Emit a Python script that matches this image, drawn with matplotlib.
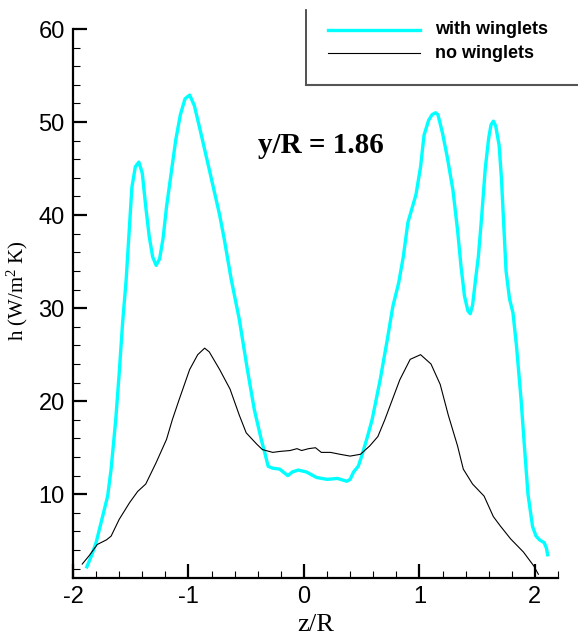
import matplotlib
matplotlib.use("Agg")
import matplotlib.pyplot as plt
from matplotlib.lines import Line2D
from matplotlib.ticker import MultipleLocator

plt.rcParams["axes.unicode_minus"] = False
plt.rcParams["mathtext.fontset"] = "custom"
plt.rcParams["mathtext.rm"] = "Liberation Serif"
plt.rcParams["mathtext.it"] = "Liberation Serif"

# with winglets (cyan)
z_w = [-1.88, -1.84, -1.80, -1.75, -1.70, -1.67, -1.63, -1.60, -1.57, -1.54, -1.51, -1.49,
       -1.46, -1.43, -1.40, -1.37, -1.34, -1.31, -1.28, -1.25, -1.22, -1.19, -1.15, -1.11,
       -1.07, -1.03, -0.99, -0.95, -0.90, -0.82, -0.73, -0.69, -0.63, -0.56, -0.49, -0.43,
       -0.37, -0.34, -0.31, -0.27, -0.21, -0.18, -0.14, -0.10, -0.05, 0.02, 0.11, 0.20,
       0.29, 0.37, 0.40, 0.43, 0.47, 0.50, 0.55, 0.59, 0.66, 0.72, 0.77, 0.82, 0.86, 0.90,
       0.97, 1.01, 1.04, 1.08, 1.11, 1.14, 1.16, 1.20, 1.24, 1.29, 1.33, 1.36, 1.39, 1.42,
       1.44, 1.46, 1.49, 1.51, 1.54, 1.57, 1.60, 1.62, 1.64, 1.66, 1.69, 1.71, 1.73, 1.75,
       1.78, 1.81, 1.84, 1.88, 1.91, 1.94, 1.98, 2.01, 2.04, 2.08, 2.10, 2.11]
h_w = [2.2, 3.4, 4.8, 7.3, 9.8, 12.7, 18.0, 23.0, 28.5, 33.0, 39.0, 43.0,
       45.2, 45.7, 44.5, 40.9, 37.7, 35.5, 34.6, 35.3, 37.5, 40.9, 44.5, 48.1,
       50.8, 52.5, 52.9, 51.8, 49.2, 44.9, 40.0, 37.4, 33.1, 28.8, 23.4, 19.1,
       15.9, 14.5, 13.0, 12.8, 12.7, 12.4, 12.0, 12.4, 12.6, 12.4, 11.8, 11.6,
       11.7, 11.4, 11.6, 12.4, 13.0, 14.1, 16.2, 18.0, 22.3, 26.5, 30.2, 32.7, 35.5, 39.2,
       42.2, 45.2, 48.6, 50.2, 50.8, 51.0, 50.8, 48.8, 46.3, 42.7, 38.4, 34.5, 31.3, 29.7,
       29.4, 30.3, 33.5, 35.5, 40.0, 45.0, 48.3, 49.7, 50.1, 49.6, 47.5, 44.0, 39.0, 34.0,
       31.0, 29.5, 26.0, 20.2, 15.0, 10.0, 6.5, 5.5, 5.1, 4.8, 4.2, 3.5]

# no winglets (black)
z_n = [-1.92, -1.86, -1.79, -1.71, -1.67, -1.60, -1.51, -1.44, -1.37, -1.28, -1.19, -1.14,
       -1.08, -0.99, -0.92, -0.86, -0.82, -0.73, -0.64, -0.56, -0.50, -0.41, -0.36, -0.27,
       -0.21, -0.12, -0.06, -0.02, 0.04, 0.10, 0.15, 0.23, 0.31, 0.40, 0.49, 0.57, 0.64,
       0.70, 0.83, 0.92, 1.01, 1.10, 1.18, 1.25, 1.33, 1.38, 1.46, 1.56, 1.64, 1.70, 1.79,
       1.90, 1.99, 2.03]
h_n = [2.5, 3.4, 4.6, 5.1, 5.5, 7.3, 9.1, 10.3, 11.1, 13.4, 15.9, 18.0,
       20.2, 23.4, 25.0, 25.7, 25.3, 23.4, 21.3, 18.5, 16.6, 15.4, 14.8, 14.5,
       14.6, 14.7, 14.9, 14.7, 14.9, 15.0, 14.5, 14.5, 14.3, 14.1, 14.3, 15.2, 16.2,
       18.0, 22.3, 24.5, 25.0, 24.0, 21.8, 18.5, 15.2, 12.7, 11.1, 9.8, 7.6, 6.6, 5.2,
       3.8, 2.3, 1.4]

x_ticks = [-2, -1, 0, 1, 2]
y_ticks = [10, 20, 30, 40, 50, 60]
label_w = "with winglets"
label_n = "no winglets"
annotation = "y/R = 1.86"

W, H = 578, 641
fig = plt.figure(figsize=(W / 100, H / 100), dpi=100)
ax = fig.add_axes([73 / W, 1 - 578 / H, (558 - 73) / W, (578 - 29) / H])

ax.plot(z_n, h_n, color="black", lw=0.8, zorder=3)
ax.plot(z_w, h_w, color="#00FFFF", lw=2.4, zorder=2)

ax.set_xlim(-2, 2.2)
ax.set_ylim(1, 60)
ax.spines["top"].set_visible(False)
ax.spines["right"].set_visible(False)
ax.spines["left"].set_linewidth(1.6)
ax.spines["bottom"].set_linewidth(1.6)
ax.spines["left"].set_bounds(1, 60)
ax.set_xticks(x_ticks)
ax.set_yticks(y_ticks)
ax.xaxis.set_minor_locator(MultipleLocator(0.2))
ax.yaxis.set_minor_locator(MultipleLocator(2))
ax.tick_params(which="major", direction="in", length=10, width=1.6,
               labelsize=17, pad=6)
ax.tick_params(which="minor", direction="in", length=5, width=0.8)
for lab in ax.get_xticklabels() + ax.get_yticklabels():
    lab.set_fontfamily("Liberation Sans")

ax.set_xlabel("z/R", family="Liberation Serif", fontsize=19, labelpad=4)
ax.set_ylabel("h (W/m$^2$ K)", family="Liberation Serif", fontsize=15)
ax.yaxis.set_label_coords(-0.088, 0.523)

ax.text(0.15, 47.5, annotation, family="Liberation Serif", fontweight="bold",
        fontsize=21, ha="center", va="center")

# legend box (extends past figure edge)
def fx(px):
    return px / W

def fy(py):
    return 1 - py / H

fig.add_artist(Line2D([fx(306), fx(306)], [fy(10), fy(85)], color="#333333", lw=1.2,
                      transform=fig.transFigure))
fig.add_artist(Line2D([fx(306), fx(578)], [fy(85), fy(85)], color="#555555", lw=1.5,
                      transform=fig.transFigure))
fig.add_artist(Line2D([fx(328), fx(420)], [fy(30), fy(30)], color="#00FFFF", lw=2.4,
                      transform=fig.transFigure))
fig.add_artist(Line2D([fx(328), fx(420)], [fy(53), fy(53)], color="black", lw=0.8,
                      transform=fig.transFigure))
fig.text(fx(435), fy(30), label_w, family="Liberation Sans", fontweight="bold",
         fontsize=13, va="center", ha="left")
fig.text(fx(435), fy(54), label_n, family="Liberation Sans", fontweight="bold",
         fontsize=13, va="center", ha="left")

fig.savefig("out.png", dpi=100)
